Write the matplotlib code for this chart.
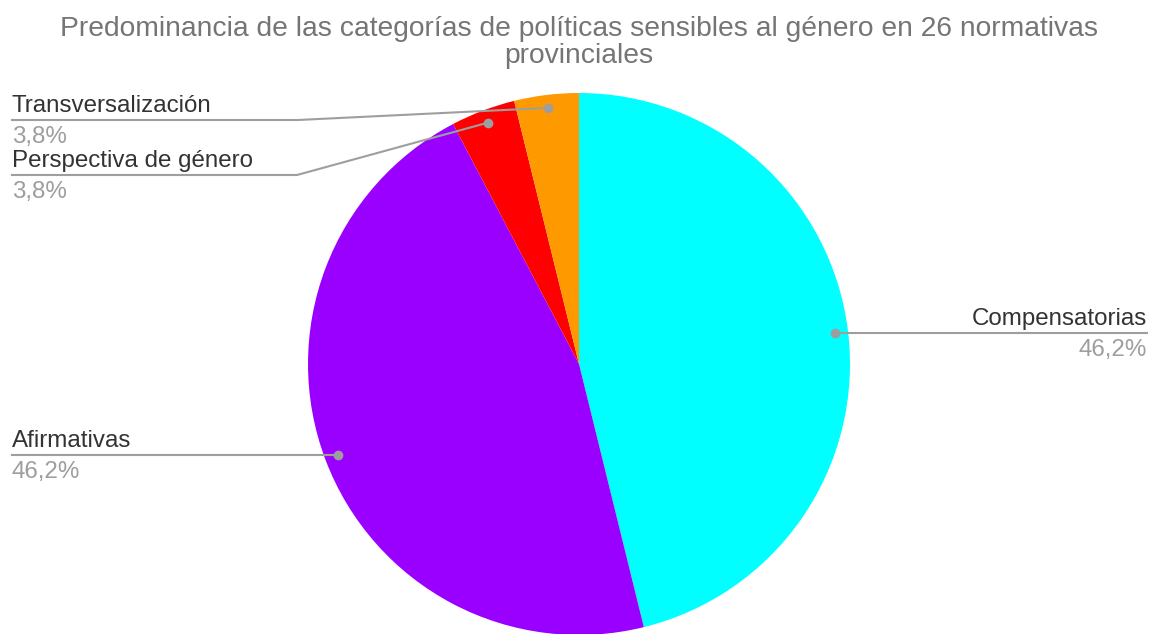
import numpy as np
import matplotlib
matplotlib.use("Agg")
import matplotlib.pyplot as plt

# data
categories = ["Compensatorias", "Afirmativas", "Perspectiva de género", "Transversalización"]
counts = [12, 12, 1, 1]
pct_labels = ["46,2%", "46,2%", "3,8%", "3,8%"]
colors = ["#00ffff", "#9900ff", "#ff0000", "#ff9900"]
title_lines = ["Predominancia de las categorías de políticas sensibles al género en 26 normativas",
               "provinciales"]

W, H = 1150, 634
plt.rcParams['font.family'] = ['Liberation Sans', 'DejaVu Sans']

fig = plt.figure(figsize=(W / 100, H / 100), dpi=100)
ax = fig.add_axes([0, 0, 1, 1])

cx, cy, R = 579, H - 364, 271
wedges, _ = ax.pie(counts, colors=colors, startangle=90, counterclock=False,
                   center=(cx, cy), radius=R, frame=True,
                   wedgeprops=dict(linewidth=0))
ax.set_xlim(0, W)
ax.set_ylim(0, H)
ax.set_aspect('equal')
ax.axis('off')

# dots at mid angle of each slice
dots = []
for w in wedges:
    mid = np.deg2rad((w.theta1 + w.theta2) / 2)
    dots.append((cx + 0.952 * R * np.cos(mid), cy + 0.952 * R * np.sin(mid)))

line_c = "#9e9e9e"
lab_c = "#333333"
pct_c = "#9e9e9e"
fs = 17.4

def yy(v):
    return H - v

def label(x, ly, i, ha):
    ax.text(x, ly + 8, categories[i], ha=ha, va='baseline', fontsize=fs, color=lab_c)
    ax.text(x, ly - 23, pct_labels[i], ha=ha, va='baseline', fontsize=fs, color=pct_c)

# Compensatorias (right)
x0, y0 = dots[0]
ax.plot([x0, 1147], [y0, y0], color=line_c, lw=1.5)
label(1147, y0, 0, 'right')

# Afirmativas (left)
x1, y1 = dots[1]
ax.plot([12, x1], [y1, y1], color=line_c, lw=1.5)
label(12, y1, 1, 'left')

# Perspectiva de género (left, elbow)
x2, y2 = dots[2]
ey = yy(175)
ax.plot([12, 297, x2], [ey, ey, y2], color=line_c, lw=1.5)
label(12, ey, 2, 'left')

# Transversalización (left, elbow)
x3, y3 = dots[3]
ey = yy(120)
ax.plot([12, 298, x3], [ey, ey, y3], color=line_c, lw=1.5)
label(12, ey, 3, 'left')

for x, y in dots:
    ax.plot(x, y, 'o', color=line_c, ms=6, zorder=5)

ax.text(579, yy(29), title_lines[0], ha='center', va='center', fontsize=20.3, color="#757575")
ax.text(579, yy(56), title_lines[1], ha='center', va='center', fontsize=20.3, color="#757575")

fig.savefig("out.png", dpi=100)
